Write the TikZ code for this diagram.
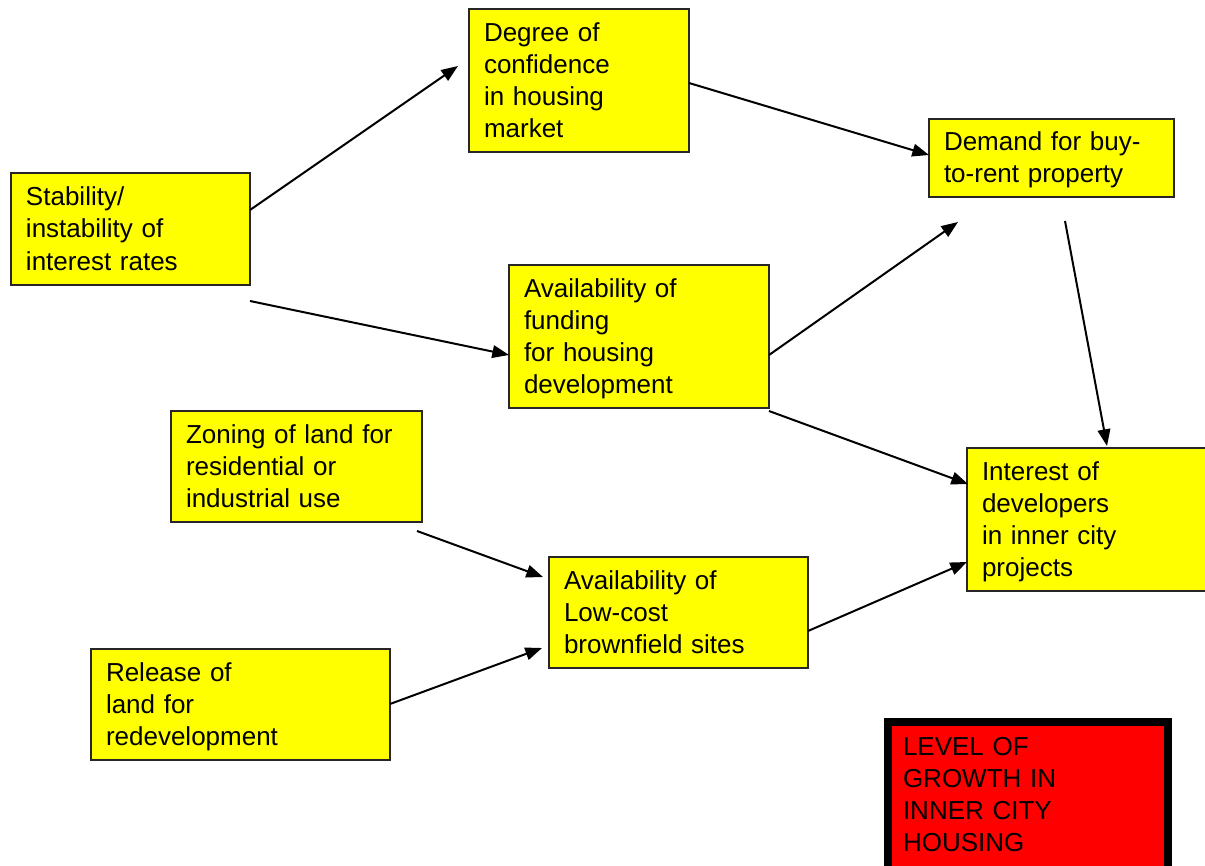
\documentclass[tikz,border=0pt]{standalone}
\usepackage{fontspec}
\setmainfont{Liberation Sans}
\usetikzlibrary{arrows.meta}
\definecolor{boxyellow}{RGB}{255,255,0}
\definecolor{boxred}{RGB}{255,0,0}
\newcommand{\lstrut}{\rule[-5.25pt]{0pt}{24pt}}
\tikzset{
  ybox/.style={draw=black!85, line width=1.5pt, fill=boxyellow, inner xsep=11.25pt, inner ysep=0pt,
    outer sep=0pt, align=left, font=\fontsize{19.5pt}{24pt}\selectfont, anchor=north west},
  rbox/.style={ybox, draw=black, line width=6pt, fill=boxred},
  arr/.style={line width=1.5pt, -{Triangle[length=12.5pt,width=9.5pt]}},
}
\begin{document}
\begin{tikzpicture}[x=0.75pt,y=-0.75pt]
\useasboundingbox (0,0) rectangle (1205,866);
\node[ybox, minimum width=220*0.75pt, minimum height=143*0.75pt, text width=190*0.75pt] (deg) at (469,9)
  {\lstrut Degree of\\confidence\\in housing\\market\lstrut};
\node[ybox, minimum width=239*0.75pt, minimum height=112*0.75pt, text width=209*0.75pt] (stab) at (11,173)
  {\lstrut Stability/\\instability of\\interest rates\lstrut};
\node[ybox, minimum width=245*0.75pt, minimum height=78*0.75pt, text width=215*0.75pt] (dem) at (929,119)
  {\lstrut Demand for buy-\\to-rent property\lstrut};
\node[ybox, minimum width=260*0.75pt, minimum height=143*0.75pt, text width=230*0.75pt] (fund) at (509,265)
  {\lstrut Availability of\\funding\\for housing\\development\lstrut};
\node[ybox, minimum width=251*0.75pt, minimum height=111*0.75pt, text width=221*0.75pt] (zon) at (171,411)
  {\lstrut Zoning of land for\\residential or\\industrial use\lstrut};
\node[ybox, minimum width=250*0.75pt, minimum height=143*0.75pt, text width=220*0.75pt] (int) at (967,448)
  {\lstrut Interest of\\developers\\in inner city\\projects\lstrut};
\node[ybox, minimum width=259*0.75pt, minimum height=111*0.75pt, text width=229*0.75pt] (low) at (549,557)
  {\lstrut Availability of\\Low-cost\\brownfield sites\lstrut};
\node[ybox, minimum width=299*0.75pt, minimum height=111*0.75pt, text width=269*0.75pt] (rel) at (91,649)
  {\lstrut Release of\\land for\\redevelopment\lstrut};
\node[rbox, minimum width=280*0.75pt, minimum height=160*0.75pt, text width=250*0.75pt] (lev) at (888,722)
  {\lstrut LEVEL OF\\GROWTH IN\\INNER CITY\\HOUSING\rule[-17.25pt]{0pt}{24pt}};
\draw[arr] ([shift={(0,37)}]stab.north east) -- ([shift={(-11,57)}]deg.north west);
\draw[arr] ([shift={(0,16)}]stab.south east) -- ([shift={(0,90)}]fund.north west);
\draw[arr] ([shift={(0,74)}]deg.north east) -- ([shift={(0,36)}]dem.north west);
\draw[arr] ([shift={(0,90)}]fund.north east) -- ([shift={(29,25)}]dem.south west);
\draw[arr] ([shift={(136,24)}]dem.south west) -- ([shift={(140,-2)}]int.north west);
\draw[arr] ([shift={(0,3)}]fund.south east) -- ([shift={(1,36)}]int.north west);
\draw[arr] ([shift={(-5,9)}]zon.south east) -- ([shift={(-6,20)}]low.north west);
\draw[arr] ([shift={(0,55)}]rel.north east) -- ([shift={(-7,91)}]low.north west);
\draw[arr] ([shift={(0,74)}]low.north east) -- ([shift={(0,114)}]int.north west);
\end{tikzpicture}
\end{document}
